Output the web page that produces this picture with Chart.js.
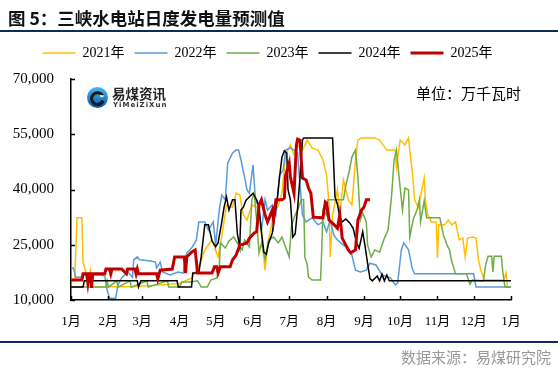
<!DOCTYPE html>
<html><head><meta charset="utf-8">
<script src="https://cdn.jsdelivr.net/npm/chart.js@4"></script>
<style>
html,body{margin:0;padding:0;background:#fff;}
#wrap{position:relative;width:558px;height:369px;overflow:hidden;background:#fff;}
#c{position:absolute;left:0;top:0;}
.title{position:absolute;left:8px;top:8px;font:bold 17.5px 'Noto Sans CJK SC',sans-serif;line-height:20px;color:#111;white-space:nowrap;}
.rule{position:absolute;left:0;width:558px;height:2px;background:#0b2a62;}
.unit{position:absolute;left:416px;top:85px;font:15px 'Noto Sans CJK SC',sans-serif;line-height:16px;color:#000;white-space:nowrap;}
.src{position:absolute;right:7px;top:348px;font:15px 'Noto Sans CJK SC',sans-serif;line-height:17px;color:#999;white-space:nowrap;}
.logo{position:absolute;left:86px;top:86px;width:90px;height:24px;}
.logo svg{position:absolute;left:0;top:0;}
.logo .cn{position:absolute;left:26px;top:0px;font:bold 13.5px 'Noto Sans CJK SC',sans-serif;line-height:15px;color:#222;white-space:nowrap;}
.logo .en{position:absolute;left:27px;top:15px;font:bold 7px 'DejaVu Sans',sans-serif;line-height:8px;letter-spacing:1px;color:#333;white-space:nowrap;}
</style></head>
<body>
<div id="wrap">
<canvas id="c" width="558" height="369"></canvas>
<div class="title">图 5：三峡水电站日度发电量预测值</div>
<div class="rule" style="top:30px"></div>
<div class="rule" style="top:341px"></div>
<div class="unit">单位：万千瓦时</div>
<div class="src">数据来源：易煤研究院</div>
<div class="logo">
<svg width="23" height="23" viewBox="0 0 23 23"><defs><linearGradient id="g" x1="0" y1="0" x2="0" y2="1"><stop offset="0" stop-color="#47b8f2"/><stop offset="1" stop-color="#0a5aa8"/></linearGradient></defs>
<circle cx="11.5" cy="11.5" r="10.5" fill="url(#g)"/>
<path d="M18 9 A7.5 7.5 0 1 0 18.5 15.5 L15.5 13.8 A4.3 4.3 0 1 1 15.2 10.6 Z" fill="#1b1b1b"/>
<path d="M14 8.5 Q17 10 18.5 9 Q17 12 14.5 11 Z" fill="#fff"/>
</svg>
<div class="cn">易煤资讯</div>
<div class="en">YiMeiZiXun</div>
</div>
</div>
<script>
const seriesNames = ['2021年','2022年','2023年','2024年','2025年'];
const monthTicks = [0,31,59,90,120,151,181,212,243,273,304,334,365];
const monthLabels = ['1月','2月','3月','4月','5月','6月','7月','8月','9月','10月','11月','12月','1月'];
const yTicks = [10000,25000,40000,55000,70000];

// [day of year, value]
const y2021 = [[0,15200],[3,15200],[5,32300],[9,32300],[10,20300],[12,18100],[14,15400],[16,18100],[17,13500],[30,13600],[50,13600],[70,14000],[90,14500],[100,16000],[106,19000],[111,23600],[117,26300],[122,21700],[125,27100],[129,35800],[134,35200],[137,39000],[140,38500],[143,33100],[146,31700],[150,35800],[155,35200],[158,27600],[161,18100],[163,24900],[168,33100],[172,35800],[175,39000],[178,49400],[182,52100],[185,49400],[188,52100],[192,50700],[196,53400],[200,51300],[205,50700],[209,48000],[212,43900],[214,36300],[215,21700],[217,33100],[221,39900],[223,33100],[226,42600],[230,37200],[233,35800],[236,48000],[238,53400],[241,54000],[252,54000],[256,53400],[262,50700],[269,50700],[270,46100],[273,53400],[277,52100],[280,54000],[281,50700],[283,45300],[285,37200],[288,35200],[291,39900],[293,43100],[294,37200],[296,33100],[299,31200],[303,31200],[304,21400],[305,30400],[310,30400],[313,31700],[316,30400],[319,31200],[322,26300],[325,26800],[327,21700],[329,26800],[333,27100],[336,26800],[338,20900],[340,18100],[343,15400],[359,15400],[361,17300],[362,13500],[365,13500]];
const y2022 = [[0,18700],[2,18700],[4,16200],[9,16200],[11,16800],[24,16800],[28,16500],[30,12700],[32,10500],[37,10500],[39,14100],[42,16000],[47,17600],[51,16200],[52,20900],[55,21700],[57,20900],[66,20600],[70,20300],[71,18700],[74,20300],[76,17600],[82,16800],[89,17600],[93,17300],[96,22800],[100,24100],[104,26300],[106,31200],[111,31200],[114,29000],[118,31200],[120,24900],[123,34400],[125,38500],[128,37200],[130,47200],[134,49900],[137,50700],[139,50700],[141,48000],[144,43400],[146,39900],[148,39000],[151,46700],[153,37200],[155,35800],[158,29000],[161,37200],[163,34400],[167,35800],[170,33100],[173,43900],[176,45300],[178,50700],[182,51300],[185,50700],[188,49900],[190,41200],[192,33100],[195,31200],[200,32300],[205,30400],[209,31200],[212,28500],[215,31700],[218,27600],[221,26300],[226,24900],[230,24100],[233,22200],[236,18100],[240,17600],[245,18100],[248,20000],[253,19500],[258,16800],[265,16000],[269,14100],[271,14600],[274,23600],[276,25500],[280,23600],[283,18700],[285,17100],[323,17100],[334,17100],[336,13500],[365,13500]];
const y2023 = [[0,13500],[29,13500],[30,15200],[31,13500],[38,15200],[39,13500],[49,15200],[50,13500],[63,15200],[64,13500],[80,15200],[81,13500],[90,13500],[92,14900],[99,14900],[105,15200],[108,13500],[113,13500],[116,15400],[121,16000],[123,19000],[124,25500],[128,24100],[131,26000],[135,27100],[139,24900],[142,23600],[144,26300],[148,24400],[150,37200],[152,39000],[154,31700],[156,22800],[158,25500],[161,20900],[164,26300],[168,27100],[172,25500],[175,27100],[178,24400],[181,21700],[183,30400],[186,33100],[188,34400],[191,37200],[193,37200],[194,21700],[196,19500],[197,16200],[200,15400],[207,15400],[208,23600],[209,34400],[212,33100],[213,37200],[226,37200],[228,41200],[231,45300],[233,48800],[236,50700],[238,43400],[240,31700],[242,33600],[245,31200],[246,24900],[249,21700],[252,23600],[256,23000],[260,26800],[263,29000],[265,35200],[266,38500],[268,48000],[270,50700],[272,43900],[275,34400],[277,40400],[280,39900],[281,27100],[284,32000],[287,34400],[289,37200],[290,31200],[293,36900],[295,32300],[306,32300],[309,27600],[312,24900],[314,23600],[316,20300],[319,17100],[328,17100],[331,14300],[333,15400],[342,15200],[344,19500],[346,21900],[349,21900],[350,17600],[351,21900],[357,21900],[358,18100],[360,13500],[365,13500]];
const y2024 = [[0,13500],[10,13500],[11,15200],[55,15200],[56,13500],[58,15200],[88,15200],[89,13500],[100,13500],[101,17300],[106,17300],[108,21700],[111,30400],[114,30400],[117,26000],[120,24500],[122,25500],[125,31000],[127,35200],[129,38000],[131,34400],[134,37200],[136,37200],[138,28000],[140,24400],[141,34400],[143,35200],[145,37000],[148,38000],[151,39000],[154,37200],[156,35200],[158,28500],[160,23000],[162,22400],[164,25500],[167,28200],[169,33100],[171,37200],[173,43400],[175,48800],[177,50500],[179,49900],[180,40000],[182,37200],[184,27100],[186,28000],[188,35000],[190,43400],[192,53400],[193,54000],[217,54000],[219,38000],[221,36000],[223,32500],[225,31200],[228,32000],[231,31000],[234,29500],[237,25500],[239,24000],[241,27000],[242,28500],[244,24500],[246,20000],[248,15800],[250,15200],[254,16500],[256,15200],[258,17000],[260,15200],[262,16800],[264,15200],[365,15200]];
const y2025 = [[0,15400],[9,15400],[10,17100],[13,17100],[14,14600],[15,17100],[16,17100],[17,13300],[18,17100],[28,17100],[29,18400],[32,18400],[33,17100],[34,18400],[42,18400],[46,17100],[47,18400],[53,18400],[54,17100],[55,18400],[56,17100],[71,17100],[72,15700],[74,18100],[84,18400],[86,21700],[94,21700],[95,17300],[96,21700],[100,23000],[103,23600],[105,17300],[117,17300],[119,19000],[121,19000],[122,17300],[124,19000],[132,19000],[134,20900],[137,22200],[140,24900],[146,25500],[148,26800],[152,28200],[154,28500],[156,35800],[158,37200],[161,33100],[163,31200],[167,34400],[168,31700],[170,37200],[175,37200],[177,37700],[178,43900],[181,47200],[182,43400],[185,39000],[187,52100],[188,53700],[190,53400],[192,43100],[195,42600],[197,40400],[199,39000],[201,32500],[209,32300],[211,36600],[212,36300],[214,31700],[217,30900],[221,29500],[223,33100],[225,26800],[227,25500],[230,23600],[232,22800],[236,23600],[238,31700],[241,34400],[243,35200],[245,37200],[248,37200]];

const allSeries = [y2021,y2022,y2023,y2024,y2025];
const colors = ['#FFC000','#5B9BD5','#70AD47','#000000','#C00000'];
const widths = [1.5,1.5,1.5,1.5,3];

const PAD = {left:0,right:47,top:36,bottom:30};
const AREA = {top:79,bottom:300,left:71};
const LEGEND_SPAN = {left:24,right:511};

Chart.defaults.font.family = "'Liberation Serif','Noto Sans CJK SC',serif";
Chart.defaults.color = '#000';

const legendFix = {
  id:'legendFix',
  beforeInit(chart){
    const orig = chart.legend.fit;
    chart.legend.fit = function(){ orig.call(this); this.height = AREA.top - PAD.top; };
  },
  afterLayout(chart){
    chart.legend.left = LEGEND_SPAN.left;
    chart.legend.right = LEGEND_SPAN.right;
  }
};
const innerTicks = {
  id:'innerTicks',
  afterDatasetsDraw(chart){
    const ctx = chart.ctx, xs = chart.scales.x, ys = chart.scales.y;
    ctx.save(); ctx.strokeStyle='#000'; ctx.lineWidth=1.5; ctx.beginPath();
    xs.ticks.forEach(t=>{ const p=Math.round(xs.getPixelForValue(t.value))+0.5; ctx.moveTo(p, ys.bottom); ctx.lineTo(p, ys.bottom-4); });
    ys.ticks.forEach(t=>{ const p=Math.round(ys.getPixelForValue(t.value))+0.5; ctx.moveTo(xs.left, p); ctx.lineTo(xs.left+4, p); });
    ctx.stroke(); ctx.restore();
  }
};

new Chart(document.getElementById('c'), {
  type:'line',
  data:{ datasets: allSeries.map((s,i)=>({
    label: seriesNames[i],
    data: s.map(([x,y])=>({x,y})),
    borderColor: colors[i], backgroundColor: colors[i],
    borderWidth: widths[i], pointRadius:0, tension:0, fill:false,
    order: 4-i
  }))},
  options:{
    responsive:false, animation:false, devicePixelRatio:1,
    layout:{padding:PAD},
    plugins:{
      legend:{ position:'top', labels:{ usePointStyle:true, pointStyle:'line', pointStyleWidth:33, boxHeight:14, padding:10, font:{size:14}, color:'#000',
        sort:(a,b)=>a.datasetIndex-b.datasetIndex } },
      tooltip:{enabled:false}
    },
    scales:{
      x:{ type:'linear', min:0, max:365,
        afterBuildTicks(s){ s.ticks = monthTicks.map(v=>({value:v})); },
        afterFit(s){ s.height = 369 - PAD.bottom - AREA.bottom; },
        ticks:{ autoSkip:false, maxRotation:0, padding:14, font:{size:13}, color:'#000',
          callback:(v,i)=>monthLabels[i] },
        grid:{ display:false, drawTicks:false },
        border:{ display:true, color:'#000', width:1.5 }
      },
      y:{ min:10000, max:70000,
        afterBuildTicks(s){ s.ticks = yTicks.map(v=>({value:v})); },
        afterFit(s){ s.width = AREA.left - PAD.left; },
        ticks:{ padding:17, font:{size:15}, color:'#000', callback:v=>v.toLocaleString('en-US') },
        grid:{ display:false, drawTicks:false },
        border:{ display:true, color:'#000', width:1.5 }
      }
    }
  },
  plugins:[legendFix, innerTicks]
});
</script>
</body></html>
